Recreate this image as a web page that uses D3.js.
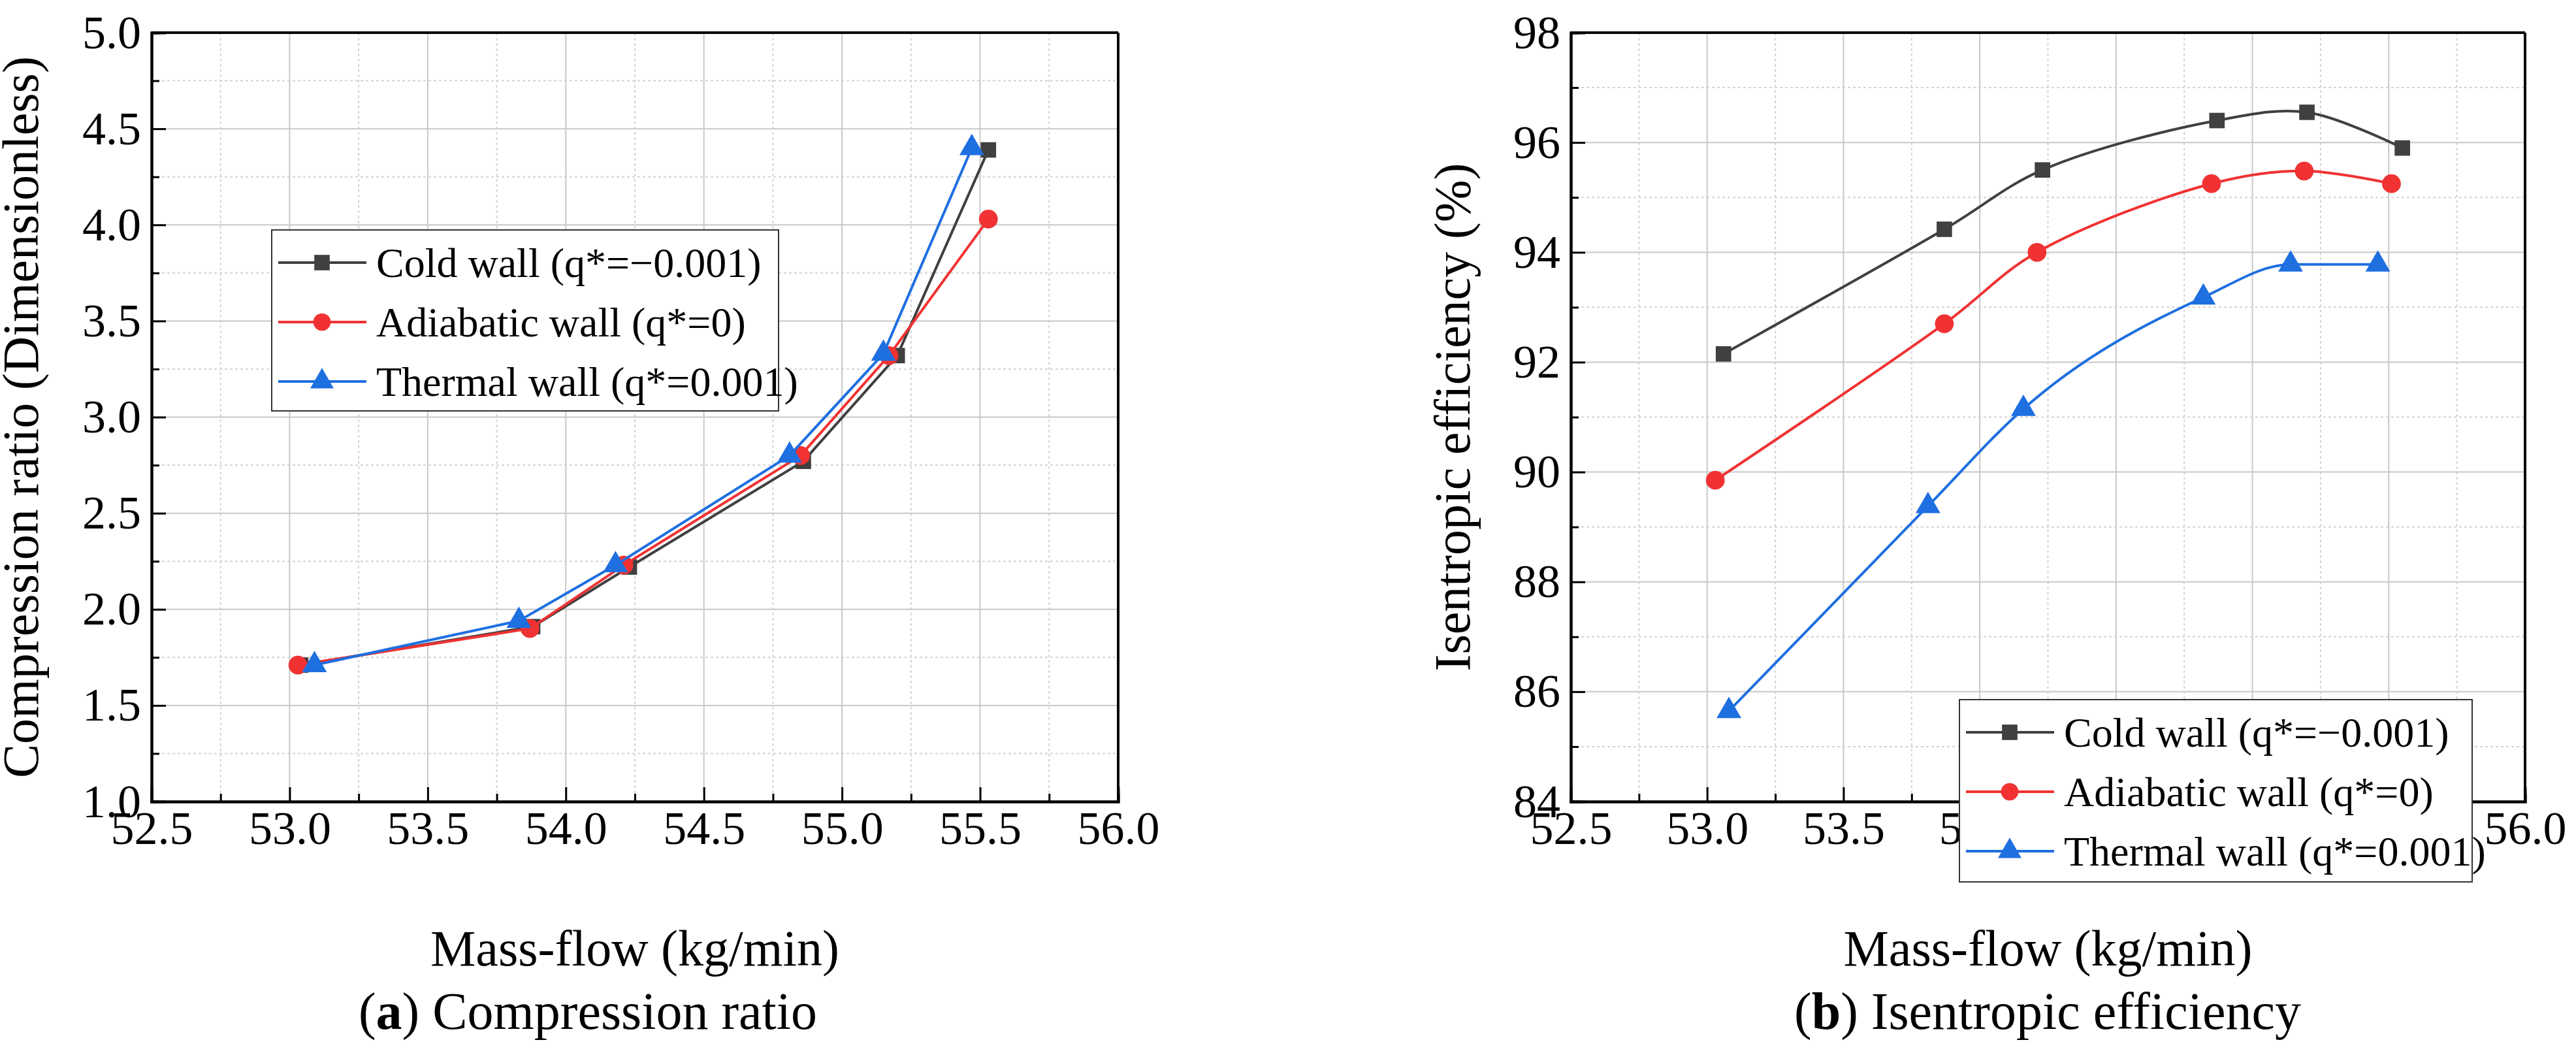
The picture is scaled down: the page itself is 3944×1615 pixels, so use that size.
<!DOCTYPE html>
<html><head><meta charset="utf-8">
<script src="https://cdn.jsdelivr.net/npm/d3@7"></script>
<style>body{margin:0;background:#fff}</style></head>
<body><svg id="c" width="3944" height="1615"></svg>
<script>
const seriesNames = ["Cold wall (q*=\u22120.001)", "Adiabatic wall (q*=0)", "Thermal wall (q*=0.001)"];
const seriesColors = ["#404040", "#f03232", "#1e6fe0"];
const seriesSymbols = ["square", "circle", "triangle"];
// panel a
const aColdX = [53.04, 53.88, 54.23, 54.86, 55.20, 55.53];
const aColdY = [1.71, 1.91, 2.22, 2.77, 3.32, 4.39];
const aAdiaX = [53.03, 53.87, 54.21, 54.85, 55.17, 55.53];
const aAdiaY = [1.71, 1.90, 2.23, 2.80, 3.32, 4.03];
const aThermX = [53.09, 53.83, 54.18, 54.81, 55.15, 55.47];
const aThermY = [1.71, 1.94, 2.23, 2.80, 3.33, 4.40];
// panel b
const bColdX = [53.06, 53.87, 54.23, 54.87, 55.20, 55.55];
const bColdY = [92.15, 94.42, 95.50, 96.40, 96.55, 95.90];
const bAdiaX = [53.03, 53.87, 54.21, 54.85, 55.19, 55.51];
const bAdiaY = [89.85, 92.70, 94.00, 95.25, 95.48, 95.25];
const bThermX = [53.08, 53.81, 54.16, 54.82, 55.14, 55.46];
const bThermY = [85.65, 89.38, 91.15, 93.18, 93.78, 93.78];
const xTicks = [52.5, 53.0, 53.5, 54.0, 54.5, 55.0, 55.5, 56.0];
const aYTicks = [1.0, 1.5, 2.0, 2.5, 3.0, 3.5, 4.0, 4.5, 5.0];
const bYTicks = [84, 86, 88, 90, 92, 94, 96, 98];

const svg = d3.select("#c");
const F = "'Liberation Serif','Times New Roman',serif";
const symMap = {square: d3.symbolSquare, circle: d3.symbolCircle, triangle: d3.symbolTriangle};

function panel(o){
  const g = svg.append("g");
  const x = d3.scaleLinear().domain([52.5,56]).range([o.l,o.r]);
  const y = d3.scaleLinear().domain(o.yd).range([o.b,o.t]);
  const yStep = o.yTicks[1]-o.yTicks[0];
  const xMinor = d3.range(52.75,56,0.5), yMinor = o.yTicks.slice(0,-1).map(v=>v+yStep/2);
  g.selectAll(".gxm").data(xMinor).join("line").attr("x1",x).attr("x2",x).attr("y1",o.t).attr("y2",o.b).attr("stroke","#d4d4d4").attr("stroke-width",2).attr("stroke-dasharray","4,4");
  g.selectAll(".gym").data(yMinor).join("line").attr("y1",y).attr("y2",y).attr("x1",o.l).attr("x2",o.r).attr("stroke","#d4d4d4").attr("stroke-width",2).attr("stroke-dasharray","4,4");
  g.selectAll(".gx").data(xTicks.slice(1,-1)).join("line").attr("x1",x).attr("x2",x).attr("y1",o.t).attr("y2",o.b).attr("stroke","#c8c8c8").attr("stroke-width",2);
  g.selectAll(".gy").data(o.yTicks.slice(1,-1)).join("line").attr("y1",y).attr("y2",y).attr("x1",o.l).attr("x2",o.r).attr("stroke","#c8c8c8").attr("stroke-width",2);
  g.append("g").attr("transform",`translate(0,${o.b})`).call(d3.axisBottom(x).tickValues(xTicks).tickFormat(d3.format(".1f")).tickSize(-22).tickPadding(14));
  g.append("g").attr("transform",`translate(0,${o.b})`).call(d3.axisBottom(x).tickValues(xMinor).tickFormat("").tickSize(-12));
  g.append("g").attr("transform",`translate(${o.l},0)`).call(d3.axisLeft(y).tickValues(o.yTicks).tickFormat(o.fmt).tickSize(-22).tickPadding(16));
  g.append("g").attr("transform",`translate(${o.l},0)`).call(d3.axisLeft(y).tickValues(yMinor).tickFormat("").tickSize(-12));
  g.selectAll(".domain").attr("stroke","#000").attr("stroke-width",4);
  g.selectAll(".tick line").attr("stroke","#000").attr("stroke-width",3);
  g.selectAll(".tick text").attr("font-family",F).attr("font-size",72).attr("fill","#000");
  g.append("line").attr("x1",o.r).attr("x2",o.r).attr("y1",o.t).attr("y2",o.b).attr("stroke","#000").attr("stroke-width",4);
  g.append("line").attr("x1",o.l).attr("x2",o.r).attr("y1",o.t).attr("y2",o.t).attr("stroke","#000").attr("stroke-width",4);
  o.series.forEach((s,i)=>{
    const pts = s[0].map((v,j)=>[v,s[1][j]]);
    const line = d3.line().x(d=>x(d[0])).y(d=>y(d[1])).curve(o.curves[i]);
    g.append("path").datum(pts).attr("d",line).attr("fill","none").attr("stroke",seriesColors[i]).attr("stroke-width",4);
    g.selectAll(null).data(pts).join("path").attr("transform",d=>`translate(${x(d[0])},${y(d[1])})`)
      .attr("d",d3.symbol(symMap[seriesSymbols[i]], i==2?620:(i==0?560:650))).attr("fill",seriesColors[i]);
  });
  g.append("text").attr("x",(o.l+o.r)/2).attr("y",1478).attr("text-anchor","middle").attr("font-family",F).attr("font-size",78).text("Mass-flow (kg/min)");
  g.append("text").attr("transform",`translate(${o.ytx},${(o.t+o.b)/2}) rotate(-90)`).attr("text-anchor","middle").attr("font-family",F).attr("font-size",78).text(o.ytitle);
  const cap = g.append("text").attr("x",o.capx).attr("y",1575).attr("text-anchor","middle").attr("font-family",F).attr("font-size",80);
  cap.append("tspan").text("(");cap.append("tspan").attr("font-weight","bold").text(o.letter);cap.append("tspan").text(") "+o.cap);
  const L = o.leg;
  g.append("rect").attr("x",L.x).attr("y",L.y).attr("width",L.w).attr("height",L.h).attr("fill","#fff").attr("stroke","#333").attr("stroke-width",2);
  seriesNames.forEach((n,i)=>{
    const cy = L.y+50+i*91;
    g.append("line").attr("x1",L.x+10).attr("x2",L.x+145).attr("y1",cy).attr("y2",cy).attr("stroke",seriesColors[i]).attr("stroke-width",4);
    g.append("path").attr("transform",`translate(${L.x+77},${cy})`).attr("d",d3.symbol(symMap[seriesSymbols[i]],560)).attr("fill",seriesColors[i]);
    g.append("text").attr("x",L.x+160).attr("y",cy+22).attr("font-family",F).attr("font-size",64).text(n);
  });
}
panel({l:232,r:1712,t:50,b:1227,yd:[1,5],yTicks:aYTicks,fmt:d3.format(".1f"),curves:[d3.curveLinear,d3.curveLinear,d3.curveLinear],
  series:[[aColdX,aColdY],[aAdiaX,aAdiaY],[aThermX,aThermY]],ytitle:"Compression ratio (Dimensionless)",ytx:58,
  capx:900,letter:"a",cap:"Compression ratio",leg:{x:416,y:352,w:776,h:277}});
panel({l:2405,r:3866,t:50,b:1227,yd:[84,98],yTicks:bYTicks,fmt:d3.format("d"),curves:[d3.curveCatmullRom,d3.curveCatmullRom,d3.curveMonotoneX],
  series:[[bColdX,bColdY],[bAdiaX,bAdiaY],[bThermX,bThermY]],ytitle:"Isentropic efficiency (%)",ytx:2250,
  capx:3135,letter:"b",cap:"Isentropic efficiency",leg:{x:3000,y:1071,w:785,h:279}});
</script></body></html>
